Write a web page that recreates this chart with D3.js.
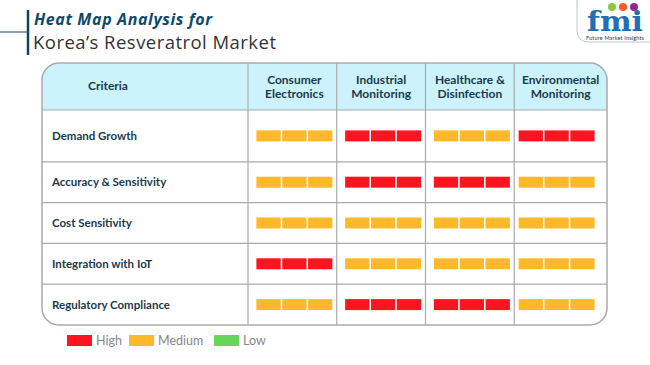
<!DOCTYPE html>
<html>
<head>
<meta charset="utf-8">
<script src="https://cdn.jsdelivr.net/npm/d3@7.9.0/dist/d3.min.js"></script>
<style>
  body { margin: 0; background: #fff; }
  svg { display: block; font-family: Lato, 'Open Sans', sans-serif; }
</style>
</head>
<body>
<svg id="chart" width="650" height="365"></svg>
<script>
const criteria = ['Demand Growth', 'Accuracy & Sensitivity', 'Cost Sensitivity', 'Integration with IoT', 'Regulatory Compliance'];
const segments = ['Consumer Electronics', 'Industrial Monitoring', 'Healthcare & Disinfection', 'Environmental Monitoring'];
const segmentLines = [['Consumer', 'Electronics'], ['Industrial', 'Monitoring'], ['Healthcare &', 'Disinfection'], ['Environmental', 'Monitoring']];
// one row per criterion, one level per segment
const levels = [
  ['Medium', 'High', 'Medium', 'High'],
  ['Medium', 'High', 'High', 'Medium'],
  ['Medium', 'Medium', 'Medium', 'Medium'],
  ['High', 'Medium', 'Medium', 'Medium'],
  ['Medium', 'High', 'High', 'Medium']
];
const legendLabels = ['High', 'Medium', 'Low'];

const colors = d3.scaleOrdinal()
  .domain(legendLabels)
  .range(['#ff1420', '#fdb92a', '#66d65a']);

const svg = d3.select('#chart');
const navy = '#1b3a4b';
const grid = '#aaaaaa';

// title
svg.append('line').attr('x1', 0).attr('x2', 28).attr('y1', 32).attr('y2', 32)
  .attr('stroke', '#0d4460').attr('stroke-width', 1);
svg.append('line').attr('x1', 28).attr('x2', 28).attr('y1', 10).attr('y2', 55)
  .attr('stroke', '#0d4460').attr('stroke-width', 2.5);
svg.append('text').attr('x', 34).attr('y', 25)
  .attr('font-family', "'Open Sans', sans-serif")
  .attr('font-size', 16).attr('font-weight', 700).attr('font-style', 'italic')
  .attr('fill', '#0e4a6b').attr('textLength', 178).text('Heat Map Analysis for');
svg.append('text').attr('x', 33).attr('y', 48.5)
  .attr('font-family', "'Open Sans', sans-serif")
  .attr('font-size', 18.5).attr('fill', '#333').attr('font-weight', 400)
  .attr('textLength', 243).text('Korea\u2019s Resveratrol Market');

// logo
svg.append('path')
  .attr('d', 'M577,0 V30 Q577,42 589,42 H650')
  .attr('fill', '#fff').attr('stroke', '#b8c8d8').attr('stroke-width', 1);
svg.append('text').attr('x', 587).attr('y', 31)
  .attr('font-size', 27).attr('font-weight', 700).attr('font-family', 'DejaVu Serif, serif')
  .attr('fill', '#1f6fb5').attr('textLength', 56).attr('lengthAdjust', 'spacingAndGlyphs')
  .text('fmi');
[['#8cc63f', 612], ['#f15a29', 623], ['#92278f', 634]].forEach(([c, cx]) => {
  svg.append('circle').attr('cx', cx).attr('cy', 7).attr('r', 4).attr('fill', c);
});
svg.append('text').attr('x', 586).attr('y', 39.5)
  .attr('font-size', 5.5).attr('fill', '#1b3a4b')
  .attr('textLength', 58).text('Future Market Insights');

// table geometry
const tLeft = 42, tRight = 607, tTop = 63, headBottom = 110, tBottom = 325;
const firstColRight = 248;

const x = d3.scaleBand().domain(segments).range([firstColRight, 603]);
const y = d3.scaleBand().domain(criteria).range([121, tBottom]);
const rowTop = (c, i) => (i === 0 ? headBottom : y(c));
const rowMid = (c, i) => (rowTop(c, i) + y(c) + y.bandwidth()) / 2;

const defs = svg.append('defs');
defs.append('clipPath').attr('id', 'tbl')
  .append('rect').attr('x', tLeft).attr('y', tTop)
  .attr('width', tRight - tLeft).attr('height', tBottom - tTop).attr('rx', 17);

const g = svg.append('g').attr('clip-path', 'url(#tbl)');
g.append('rect').attr('x', tLeft).attr('y', tTop)
  .attr('width', tRight - tLeft).attr('height', headBottom - tTop).attr('fill', '#ccf3fb');

// horizontal lines
g.selectAll('.hline')
  .data([headBottom].concat(criteria.slice(1).map(c => y(c))))
  .join('line')
  .attr('x1', tLeft).attr('x2', tRight)
  .attr('y1', d => d).attr('y2', d => d)
  .attr('stroke', grid).attr('stroke-width', 1.2);

// vertical lines
g.selectAll('.vline')
  .data([firstColRight].concat(segments.slice(1).map(s => x(s))))
  .join('line')
  .attr('x1', d => d).attr('x2', d => d)
  .attr('y1', tTop).attr('y2', tBottom)
  .attr('stroke', grid).attr('stroke-width', 1.2);

svg.append('rect').attr('x', tLeft).attr('y', tTop)
  .attr('width', tRight - tLeft).attr('height', tBottom - tTop).attr('rx', 17)
  .attr('fill', 'none').attr('stroke', grid).attr('stroke-width', 1.5);

// header text
svg.append('text').attr('x', 108).attr('y', 90).attr('text-anchor', 'middle')
  .attr('font-size', 12).attr('font-weight', 700).attr('fill', navy).text('Criteria');

const lastW = tRight - x(segments[3]);
svg.selectAll('.head')
  .data(segments)
  .join('text')
  .attr('text-anchor', 'middle')
  .attr('font-size', 12).attr('font-weight', 700).attr('fill', navy)
  .attr('x', (d, i) => x(d) + (i === 3 ? lastW : x.bandwidth()) / 2 + (i === 0 ? 2 : 0))
  .attr('y', 84)
  .each(function (d, i) {
    d3.select(this).selectAll('tspan')
      .data(segmentLines[i])
      .join('tspan')
      .attr('x', d3.select(this).attr('x'))
      .attr('dy', (t, j) => (j === 0 ? 0 : 13.5))
      .text(t => t);
  });

// row labels
svg.selectAll('.rowlab')
  .data(criteria)
  .join('text')
  .attr('x', 52)
  .attr('y', (d, i) => rowMid(d, i) + 4)
  .attr('font-size', 11.5).attr('font-weight', 700).attr('fill', navy)
  .text(d => d);

// heat cells: three segments per cell
const seg = d3.scaleBand().domain([0, 1, 2]).range([0, 76]).paddingInner(0.06);
const barH = 11;
const cells = [];
criteria.forEach((c, i) => {
  segments.forEach((s, j) => {
    cells.push({ c, i, s, j, level: levels[i][j] });
  });
});

svg.selectAll('.cell')
  .data(cells)
  .join('g')
  .attr('transform', d => {
    const w = d.j === 3 ? lastW : x.bandwidth();
    const cx = x(d.s) + w / 2 + (d.j === 3 ? -4 : 2);
    return `translate(${cx - 38},${rowMid(d.c, d.i) - barH / 2})`;
  })
  .selectAll('rect')
  .data(d => [0, 1, 2].map(k => ({ k, level: d.level })))
  .join('rect')
  .attr('x', d => seg(d.k))
  .attr('width', seg.bandwidth())
  .attr('height', barH)
  .attr('fill', d => colors(d.level));

// legend
const legendX = [67, 129, 214];
const lg = svg.selectAll('.leg')
  .data(legendLabels)
  .join('g')
  .attr('transform', (d, i) => `translate(${legendX[i]},335)`);
lg.append('rect').attr('width', 25).attr('height', 11).attr('fill', d => colors(d));
lg.append('text').attr('x', 29).attr('y', 10)
  .attr('font-size', 12.5).attr('fill', '#888').text(d => d);
</script>
</body>
</html>
